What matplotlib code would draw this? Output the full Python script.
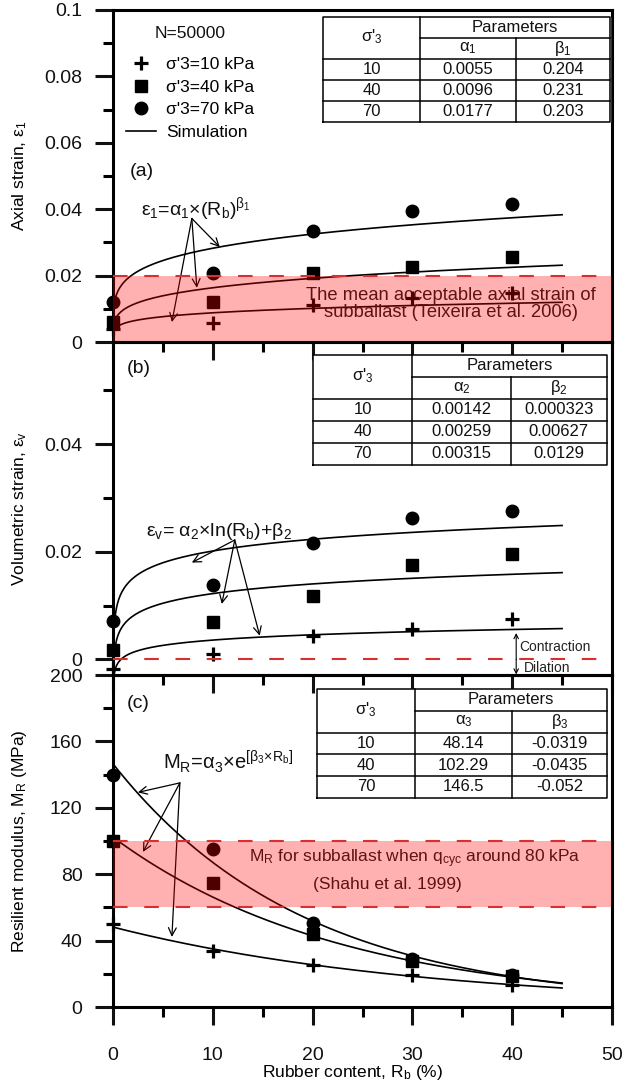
import numpy as np
import matplotlib
matplotlib.use('Agg')
import matplotlib.pyplot as plt
from matplotlib.lines import Line2D
from matplotlib.ticker import MultipleLocator, FuncFormatter

plt.rcParams['font.family'] = ['Liberation Sans', 'DejaVu Sans']
plt.rcParams['mathtext.default'] = 'regular'

# Data
rubber = [0, 10, 20, 30, 40]                      # rubber content Rb (%)
confining = [10, 40, 70]                          # sigma'3 (kPa)

axial_10 = [0.004, 0.0056, 0.0111, 0.0132, 0.0147]
axial_40 = [0.006, 0.0121, 0.0207, 0.0226, 0.0256]
axial_70 = [0.012, 0.0207, 0.0335, 0.0395, 0.0415]

vol_10 = [-0.0018, 0.001, 0.0044, 0.0057, 0.0075]
vol_40 = [0.0018, 0.0069, 0.0117, 0.0176, 0.0195]
vol_70 = [0.0071, 0.0139, 0.0216, 0.0262, 0.0275]

mr_10 = [50, 33.7, 25.3, 19.3, 13.3]
mr_40 = [100, 74.5, 44, 27.7, 18.7]
mr_70 = [140, 95, 50.8, 29, 19.5]

# Fitted parameters (tables in the chart)
alpha1 = [0.0055, 0.0096, 0.0177]
beta1 = [0.204, 0.231, 0.203]
alpha2 = [0.00142, 0.00259, 0.00315]
beta2 = [0.000323, 0.00627, 0.0129]
alpha3 = [48.14, 102.29, 146.5]
beta3 = [-0.0319, -0.0435, -0.052]

alpha1_txt = ['0.0055', '0.0096', '0.0177']
beta1_txt = ['0.204', '0.231', '0.203']
alpha2_txt = ['0.00142', '0.00259', '0.00315']
beta2_txt = ['0.000323', '0.00627', '0.0129']
alpha3_txt = ['48.14', '102.29', '146.5']
beta3_txt = ['-0.0319', '-0.0435', '-0.052']

rb_fit = np.linspace(0.13, 45, 400)
rb_fit_c = np.linspace(0, 45, 200)

RED = '#d83030'
FS = 14
markers = dict(color='black', ls='none', clip_on=False, zorder=3)
plus_kw = dict(marker='+', ms=10, mew=2.3)
sq_kw = dict(marker='s', ms=8.5)
ci_kw = dict(marker='o', ms=9)

fig = plt.figure(figsize=(6.22, 10.9), dpi=100)
left, width = 113 / 622, 499 / 622
ax_a = fig.add_axes([left, 1 - 342 / 1090, width, 332 / 1090])
ax_b = fig.add_axes([left, 1 - 675 / 1090, width, 333 / 1090])
ax_c = fig.add_axes([left, 1 - 1007 / 1090, width, 332 / 1090])

for ax in (ax_a, ax_b, ax_c):
    ax.set_facecolor('none')
    ax.set_xlim(0, 50)
    ax.xaxis.set_major_locator(MultipleLocator(10))
    ax.xaxis.set_minor_locator(MultipleLocator(5))
    ax.tick_params(which='major', direction='out', length=13, width=2.2,
                   labelsize=FS, pad=9, colors='#111111')
    ax.tick_params(which='minor', direction='out', length=7.5, width=2.2)
    ax.tick_params(top=False, right=False, which='both')
    for s in ax.spines.values():
        s.set_linewidth(2.2)
    ax.yaxis.set_major_formatter(FuncFormatter(lambda v, p: f'{v:g}'))

ax_a.tick_params(labelbottom=False)
ax_b.tick_params(labelbottom=False)
ax_c.tick_params(axis='x', pad=16)


def draw_table(ax, box, idx, a_txt, b_txt):
    x0, y0, x1, y1 = box
    xs = [x0, x0 + (x1 - x0) * 0.338, x0 + (x1 - x0) * 0.672, x1]
    ys = np.linspace(y1, y0, 6)
    kw = dict(transform=ax.transAxes, color='black', lw=1.1, clip_on=False, zorder=6)
    ax.fill([x0, x1, x1, x0], [y0, y0, y1, y1], color='white',
            transform=ax.transAxes, zorder=5, clip_on=False)
    ax.plot([x0, x1, x1, x0, x0], [y0, y0, y1, y1, y0], **kw)
    ax.plot([xs[1], xs[1]], [y0, y1], **kw)
    ax.plot([xs[2], xs[2]], [y0, ys[1]], **kw)
    ax.plot([xs[1], x1], [ys[1], ys[1]], **kw)
    for y in ys[2:5]:
        ax.plot([x0, x1], [y, y], **kw)
    tk = dict(transform=ax.transAxes, ha='center', va='center', fontsize=12,
              color='#111111', zorder=7)
    ax.text((xs[0] + xs[1]) / 2, ys[1] + 0.004, "σ'$_3$", **tk)
    ax.text((xs[1] + xs[3]) / 2, (ys[0] + ys[1]) / 2, 'Parameters', **tk)
    ax.text((xs[1] + xs[2]) / 2, (ys[1] + ys[2]) / 2, f'α$_{idx}$', **tk)
    ax.text((xs[2] + xs[3]) / 2, (ys[1] + ys[2]) / 2, f'β$_{idx}$', **tk)
    for i, c in enumerate(confining):
        yc = (ys[2 + i] + ys[3 + i]) / 2
        ax.text((xs[0] + xs[1]) / 2, yc, str(c), **tk)
        ax.text((xs[1] + xs[2]) / 2, yc, a_txt[i], **tk)
        ax.text((xs[2] + xs[3]) / 2, yc, b_txt[i], **tk)


def arrows(ax, origin, targets):
    for t in targets:
        ax.annotate('', xy=t, xytext=origin,
                    arrowprops=dict(arrowstyle='->', lw=0.9, color='black',
                                    shrinkA=0, shrinkB=0, mutation_scale=14),
                    zorder=2)


# ---- (a) axial strain ----
ax = ax_a
ax.set_ylim(0, 0.1)
ax.yaxis.set_major_locator(MultipleLocator(0.02))
ax.yaxis.set_minor_locator(MultipleLocator(0.01))
for i in range(3):
    ax.plot(rb_fit, alpha1[i] * rb_fit ** beta1[i], color='black', lw=1.2, zorder=2)
ax.plot(rubber, axial_10, **plus_kw, **markers)
ax.plot(rubber, axial_40, **sq_kw, **markers)
ax.plot(rubber, axial_70, **ci_kw, **markers)
ax.axhspan(0, 0.02, color=(1, 0, 0), alpha=0.31, lw=0, zorder=4)
ax.axhline(0.02, color=RED, lw=1.5, ls=(0, (7, 8)), zorder=5)
ax.text(33.9, 0.0114, 'The mean acceptable axial strain of\nsubballast (Teixeira et al. 2006)',
        ha='center', va='center', fontsize=13.2, color='#1a1a1a', linespacing=1.0, zorder=2)
ax.text(8.3, 0.0400, 'ε$_1$=α$_1$×(R$_b$)$^{β_1}$', ha='center', va='center',
        fontsize=14, color='#111111')
arrows(ax, (7.9, 0.0372), [(10.7, 0.0286), (8.4, 0.0163), (5.9, 0.006)])
ax.text(1.7, 0.0515, '(a)', fontsize=14, va='center', color='#111111')
ax.text(4.2, 0.0928, 'N=50000', fontsize=12.5, va='center', color='#111111')
handles = [Line2D([], [], color='black', ls='none', **plus_kw),
           Line2D([], [], color='black', ls='none', **sq_kw),
           Line2D([], [], color='black', ls='none', **ci_kw),
           Line2D([], [], color='black', lw=1.2)]
labels = [f"σ'3={c} kPa" for c in confining] + ['Simulation']
ax.legend(handles, labels, loc='upper left', bbox_to_anchor=(0.026, 0.858),
          frameon=False, fontsize=12.5, borderpad=0, borderaxespad=0,
          handlelength=1.75, handletextpad=0.55, labelspacing=0.42)
draw_table(ax, (0.421, 0.663, 0.996, 0.979), 1, alpha1_txt, beta1_txt)
ax.set_ylabel('Axial strain, ε$_1$', fontsize=12.5)
ax.yaxis.set_label_coords(-0.168, 0.5)

# ---- (b) volumetric strain ----
ax = ax_b
ax.set_ylim(-0.0029, 0.059)
ax.yaxis.set_major_locator(MultipleLocator(0.02))
ax.yaxis.set_minor_locator(MultipleLocator(0.01))
for i in range(3):
    ax.plot(rb_fit, alpha2[i] * np.log(rb_fit) + beta2[i], color='black', lw=1.2, zorder=2)
ax.plot(rubber, vol_10, **plus_kw, **markers)
ax.plot(rubber, vol_40, **sq_kw, **markers)
ax.plot(rubber, vol_70, **ci_kw, **markers)
ax.axhline(0, color=RED, lw=1.5, ls=(0, (7, 8)), zorder=4)
ax.text(10.6, 0.0238, 'ε$_v$= α$_2$×ln(R$_b$)+β$_2$', ha='center', va='center',
        fontsize=14, color='#111111')
arrows(ax, (12.2, 0.0222), [(7.9, 0.018), (10.9, 0.0103), (14.7, 0.0044)])
for end in (0.0049, -0.0028):
    ax.annotate('', xy=(40.4, end), xytext=(40.4, 0),
                arrowprops=dict(arrowstyle='->', lw=0.8, color='black',
                                shrinkA=0, shrinkB=0, mutation_scale=8))
ax.text(40.7, 0.0023, 'Contraction', fontsize=10, va='center', color='#222222')
ax.text(41.2, -0.0016, 'Dilation', fontsize=10, va='center', color='#222222')
ax.text(1.4, 0.0540, '(b)', fontsize=14, va='center', color='#111111')
draw_table(ax, (0.401, 0.631, 0.990, 0.961), 2, alpha2_txt, beta2_txt)
ax.set_ylabel('Volumetric strain, ε$_v$', fontsize=12.5)
ax.yaxis.set_label_coords(-0.168, 0.5)

# ---- (c) resilient modulus ----
ax = ax_c
ax.set_ylim(0, 200)
ax.yaxis.set_major_locator(MultipleLocator(40))
ax.yaxis.set_minor_locator(MultipleLocator(20))
for i in range(3):
    ax.plot(rb_fit_c, alpha3[i] * np.exp(beta3[i] * rb_fit_c), color='black', lw=1.2, zorder=2)
ax.plot(rubber, mr_10, **plus_kw, **markers)
ax.plot(rubber, mr_40, **sq_kw, **markers)
ax.plot(rubber, mr_70, **ci_kw, **markers)
ax.axhspan(60, 100, color=(1, 0, 0), alpha=0.31, lw=0, zorder=4)
for lvl in (60, 100):
    ax.axhline(lvl, color=RED, lw=1.5, ls=(0, (7, 8)), zorder=5)
ax.text(30.2, 89.5, 'M$_R$ for subballast when q$_{cyc}$ around 80 kPa',
        ha='center', va='center', fontsize=12.5, color='#1a1a1a', zorder=2)
ax.text(27.5, 73.5, '(Shahu et al. 1999)', ha='center', va='center',
        fontsize=12.5, color='#1a1a1a', zorder=2)
ax.text(11.5, 148, 'M$_R$=α$_3$×e$^{[β_3×R_b]}$', ha='center', va='center',
        fontsize=14.5, color='#111111')
arrows(ax, (6.7, 135), [(2.5, 129.3), (3.0, 93.4), (5.9, 42.2)])
ax.text(1.4, 183, '(c)', fontsize=14, va='center', color='#111111')
draw_table(ax, (0.409, 0.630, 0.990, 0.958), 3, alpha3_txt, beta3_txt)
ax.set_ylabel('Resilient modulus, M$_R$ (MPa)', fontsize=12.5)
ax.yaxis.set_label_coords(-0.168, 0.5)
ax.set_xlabel('Rubber content, R$_b$ (%)', fontsize=12.5, labelpad=0)
ax.xaxis.set_label_coords(0.48, -0.168)

fig.savefig('out.png', dpi=100, facecolor='white')
